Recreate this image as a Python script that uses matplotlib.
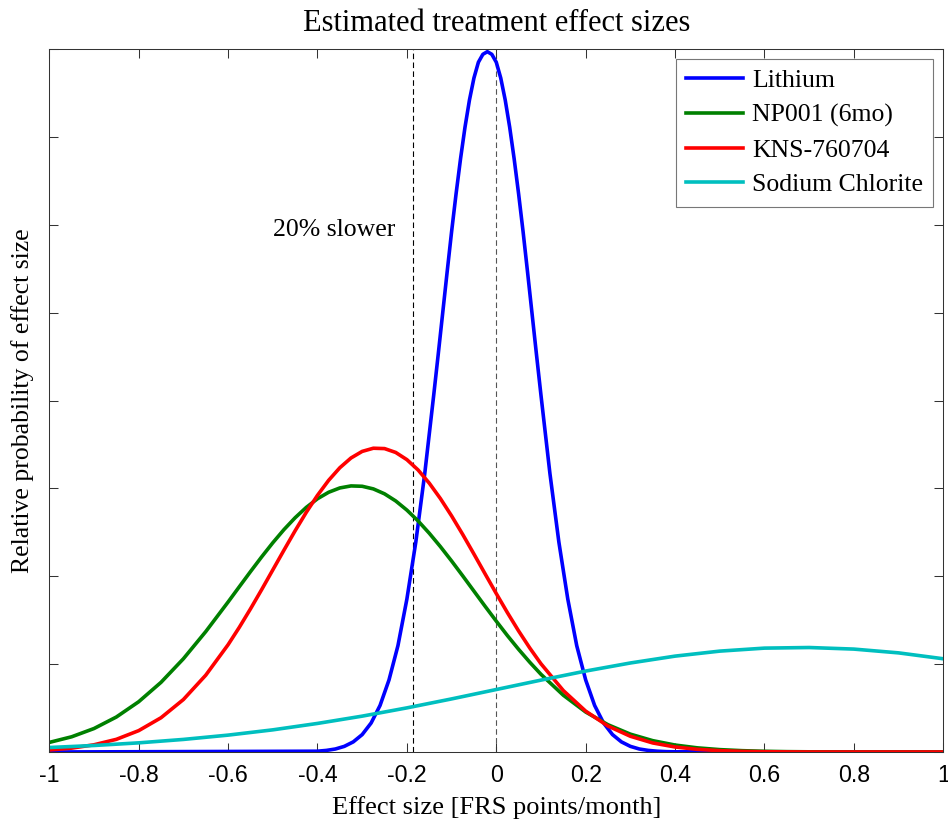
import matplotlib
matplotlib.use("Agg")
import matplotlib.pyplot as plt

# values (y in tick-interval units, 0..8)
x_blue = [-1.0,
          -0.40, -0.38, -0.36, -0.34, -0.32, -0.30, -0.28, -0.26, -0.24, -0.22, -0.20, -0.18, -0.16, -0.14,
          -0.13, -0.12, -0.11, -0.10, -0.09, -0.08, -0.07, -0.06, -0.05, -0.04, -0.03, -0.02,
          -0.01, 0.00, 0.01, 0.02, 0.03, 0.04, 0.05, 0.06, 0.07, 0.08, 0.09,
          0.10, 0.12, 0.14, 0.16, 0.18, 0.20, 0.22, 0.24, 0.26, 0.28, 0.30, 0.32, 0.34, 0.36, 0.38, 0.40,
          1.0]
lithium = [0.0,
           0.009, 0.018, 0.034, 0.064, 0.115, 0.198, 0.33, 0.53, 0.82, 1.21, 1.74, 2.39, 3.17, 4.06,
           4.52, 4.99, 5.46, 5.92, 6.35, 6.75, 7.11, 7.42, 7.67, 7.85, 7.94, 7.97,
           7.94, 7.85, 7.67, 7.42, 7.11, 6.75, 6.35, 5.92, 5.46, 4.99, 4.52,
           4.06, 3.17, 2.39, 1.74, 1.21, 0.82, 0.53, 0.33, 0.198, 0.115, 0.064, 0.034, 0.018, 0.009, 0.004, 0.002,
           0.0]

x_bell = [-1.00, -0.95, -0.90, -0.85, -0.80, -0.75, -0.70, -0.65, -0.60,
          -0.575, -0.55, -0.525, -0.50, -0.475, -0.45, -0.425, -0.40, -0.375, -0.35,
          -0.325, -0.30, -0.275, -0.25, -0.225, -0.20, -0.175, -0.15, -0.125, -0.10,
          -0.075, -0.05, -0.025, 0.00, 0.025, 0.05, 0.075, 0.10,
          0.15, 0.20, 0.25, 0.30, 0.35, 0.40, 0.45, 0.50, 0.55, 0.60,
          0.65, 0.70, 0.75, 0.80, 0.85, 0.90, 0.95, 1.00]
np001 = [0.109, 0.173, 0.267, 0.398, 0.572, 0.793, 1.061, 1.370, 1.707,
         1.880, 2.052, 2.220, 2.381, 2.531, 2.666, 2.784, 2.882, 2.956, 3.005,
         3.028, 3.024, 2.994, 2.938, 2.857, 2.753, 2.630, 2.490, 2.337, 2.174,
         2.004, 1.831, 1.658, 1.489, 1.324, 1.168, 1.021, 0.884,
         0.646, 0.455, 0.310, 0.203, 0.129, 0.079, 0.047, 0.027, 0.015, 0.008,
         0.004, 0.002, 0.001, 0.0, 0.0, 0.0, 0.0, 0.0]
kns = [0.023, 0.044, 0.082, 0.144, 0.243, 0.390, 0.597, 0.874, 1.221,
       1.418, 1.628, 1.847, 2.072, 2.297, 2.518, 2.728, 2.921, 3.092, 3.235,
       3.346, 3.421, 3.457, 3.453, 3.409, 3.327, 3.210, 3.060, 2.884, 2.687,
       2.475, 2.253, 2.027, 1.803, 1.585, 1.377, 1.183, 1.004,
       0.699, 0.465, 0.295, 0.179, 0.103, 0.057, 0.030, 0.015, 0.007, 0.003,
       0.001, 0.0, 0.0, 0.0, 0.0, 0.0, 0.0, 0.0]

x_cyan = [-1.0, -0.9, -0.8, -0.7, -0.6, -0.5, -0.4, -0.3, -0.2, -0.1, 0.0,
          0.1, 0.2, 0.3, 0.4, 0.5, 0.6, 0.7, 0.8, 0.9, 1.0]
sodium = [0.051, 0.074, 0.104, 0.143, 0.192, 0.252, 0.325, 0.408, 0.502, 0.604, 0.711,
          0.818, 0.921, 1.013, 1.091, 1.148, 1.182, 1.189, 1.171, 1.128, 1.061]

labels = ["Lithium", "NP001 (6mo)", "KNS-760704", "Sodium Chlorite"]
colors = ["#0000ff", "#008000", "#ff0000", "#00bfbf"]

xticks = [-1, -0.8, -0.6, -0.4, -0.2, 0, 0.2, 0.4, 0.6, 0.8, 1]
xtick_labels = ["-1", "-0.8", "-0.6", "-0.4", "-0.2", "0", "0.2", "0.4", "0.6", "0.8", "1"]
slower_x = -0.186

serif = ["Liberation Serif", "DejaVu Serif"]

fig = plt.figure(figsize=(9.48, 8.27), dpi=100)
ax = fig.add_axes([0.052, 0.0907, 0.943, 0.85])

ax.axvline(0, color="#555555", lw=0.8, ls=(0, (5, 3)), zorder=1)
ax.axvline(slower_x, color="black", lw=0.8, ls=(0, (5, 3)), zorder=1)

ax.plot(x_blue, lithium, color=colors[0], lw=2.6, label=labels[0], solid_joinstyle="round")
ax.plot(x_bell, np001, color=colors[1], lw=2.6, label=labels[1], solid_joinstyle="round")
ax.plot(x_bell, kns, color=colors[2], lw=2.6, label=labels[2], solid_joinstyle="round")
ax.plot(x_cyan, sodium, color=colors[3], lw=2.6, label=labels[3], solid_joinstyle="round")

ax.text(slower_x - 0.04, 5.87, "20% slower", ha="right", va="baseline",
        fontsize=18.5, family=serif)

ax.set_xlim(-1, 1)
ax.set_ylim(0, 8)
ax.set_xticks(xticks)
ax.set_xticklabels(xtick_labels, fontsize=16.7, family="Liberation Sans")
ax.set_yticks(range(9))
ax.set_yticklabels([])
ax.tick_params(direction="in", top=True, right=True, length=6.5, width=0.75,
               pad=9, color="#333333")
for s in ax.spines.values():
    s.set_linewidth(0.75)
    s.set_color("#333333")

ax.set_title("Estimated treatment effect sizes", fontsize=22, family=serif, pad=13)
ax.set_xlabel("Effect size [FRS points/month]", fontsize=19, family=serif, labelpad=6)
ax.set_ylabel("Relative probability of effect size", fontsize=18.5, family=serif, labelpad=2)

leg = ax.legend(loc="upper right", prop={"family": serif, "size": 18.5},
                fancybox=False, edgecolor="#777777", framealpha=1,
                borderaxespad=0.39, handlelength=2.2, handletextpad=0.35,
                labelspacing=0.45, borderpad=0.4)
leg.get_frame().set_linewidth(0.8)

fig.savefig("out.png", dpi=100)
